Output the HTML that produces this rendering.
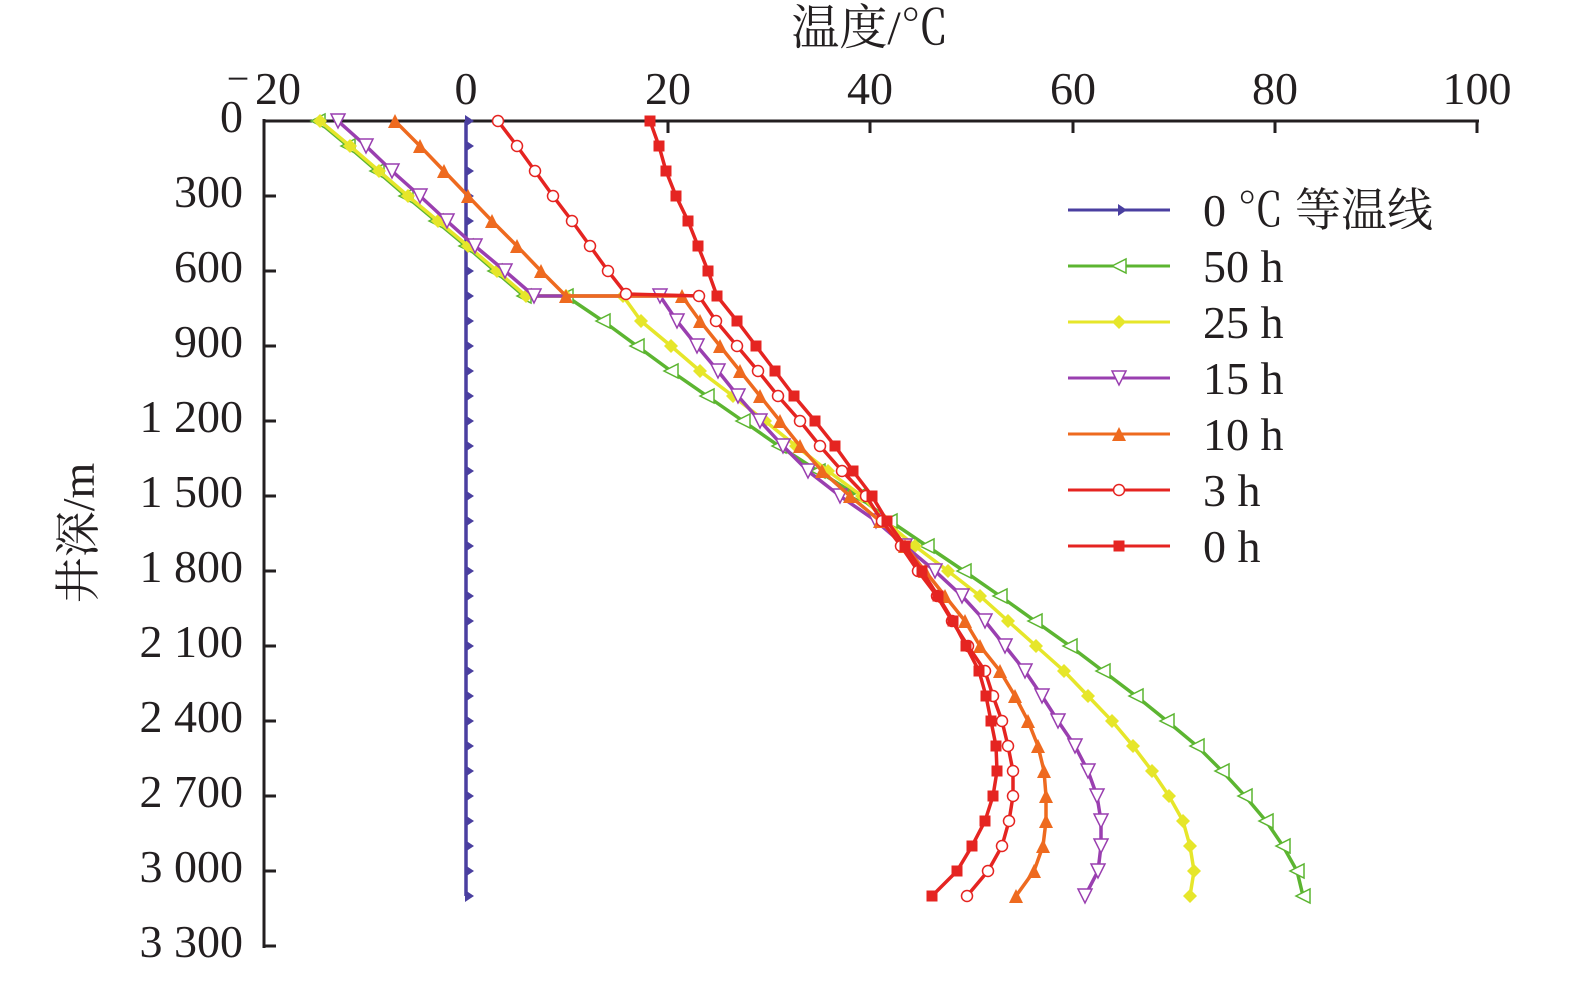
<!DOCTYPE html>
<html><head><meta charset="utf-8"><style>
body{margin:0;background:#fff;}
svg text{font-family:"Liberation Serif","Noto Serif CJK SC",serif;fill:#231f20;}
</style></head><body>
<svg id="s" width="1575" height="988" xmlns="http://www.w3.org/2000/svg">
<text x="870" y="44" font-size="48" text-anchor="middle">温度/℃</text>
<g font-size="46" text-anchor="middle">
<text x="278" y="104">20</text><text x="238" y="92" font-size="40">−</text><text x="466" y="104">0</text><text x="668" y="104">20</text>
<text x="870" y="104">40</text><text x="1073" y="104">60</text><text x="1275" y="104">80</text><text x="1477" y="104">100</text>
</g>
<g font-size="46" text-anchor="end">
<text x="243" y="132">0</text><text x="243" y="207">300</text><text x="243" y="282">600</text>
<text x="243" y="357">900</text><text x="243" y="432">1 200</text><text x="243" y="507">1 500</text>
<text x="243" y="582">1 800</text><text x="243" y="657">2 100</text><text x="243" y="732">2 400</text>
<text x="243" y="807">2 700</text><text x="243" y="882">3 000</text><text x="243" y="957">3 300</text>
</g>
<text transform="translate(94,533) rotate(-90)" font-size="46" text-anchor="middle">井深/m</text>
<g stroke="#231f20" stroke-width="3" fill="none">
<path d="M264,121H1479M264,119V948"/>
<path d="M466,121v12M668,121v12M870,121v12M1073,121v12M1275,121v12M1477,121v12"/>
<path d="M264,196h12M264,271h12M264,346h12M264,421h12M264,496h12M264,571h12M264,646h12M264,721h12M264,796h12M264,871h12M264,946h12"/>
</g>
<g id="series"></g>
<g id="legend" font-size="46"></g>
</svg>
<script>
const Y=i=>121+25*i;
function below(arr){return arr.map((x,k)=>[x,Y(8+k)]);}
const S={
 '50':{c:'#5cb531',m:'lt',pts:[[318,121],[348,146],[377,171],[406,196],[436,221],[466,246],[495,271],[524,296],[566,296]].concat(below([603,637,671,707,743,779,818,858,890,927,964,1000,1035,1070,1103,1136,1167,1197,1222,1245,1266,1283,1297,1303]))},
 '25':{c:'#e6e62a',m:'dia',pts:[[320,121],[350,146],[379,171],[408,196],[438,221],[468,246],[497,271],[526,296],[566,296],[623,296]].concat(below([641,671,700,733,765,796,828,862,885,915,948,980,1008,1036,1064,1088,1112,1133,1152,1169,1183,1190,1194,1190]))},
 '15':{c:'#9a3fb0',m:'dt',pts:[[338,121],[366,146],[392,171],[420,196],[447,221],[475,246],[505,271],[534,296],[660,296]].concat(below([677,697,718,738,760,783,808,840,876,905,935,962,985,1005,1025,1042,1058,1075,1088,1097,1101,1101,1098,1085]))},
 '10':{c:'#ee6a1f',m:'ut',pts:[[395,121],[420,146],[444,171],[468,196],[492,221],[517,246],[541,271],[566,296],[682,296]].concat(below([700,720,740,760,780,800,822,850,880,905,925,945,965,980,1000,1015,1028,1038,1044,1046,1046,1043,1034,1016]))},
 '3':{c:'#e52421',m:'circ',pts:[[498,121],[517,146],[535,171],[553,196],[572,221],[590,246],[608,271],[626,294],[699,296]].concat(below([716,737,758,778,800,820,842,866,882,901,918,937,952,968,985,993,1002,1008,1013,1013,1009,1002,988,967]))},
 '0':{c:'#e52421',m:'sq',pts:[[650,121],[659,146],[666,171],[676,196],[688,221],[698,246],[708,271],[717,296]].concat(below([737,756,775,794,815,835,853,872,887,905,922,938,953,966,979,986,991,996,997,993,985,972,957,932]))},
};
const iso={c:'#4a3fa0',m:'rt',pts:Array.from({length:32},(_,i)=>[466,Y(i)])};
function mk(m,x,y,c){
 const r=7;
 switch(m){
  case 'lt':return `<polygon points="${x-r},${y} ${x+r},${y-r} ${x+r},${y+r}" fill="#fff" stroke="${c}" stroke-width="1.5"/>`;
  case 'dia':return `<polygon points="${x},${y-r} ${x+r},${y} ${x},${y+r} ${x-r},${y}" fill="${c}"/>`;
  case 'dt':return `<polygon points="${x-r},${y-r} ${x+r},${y-r} ${x},${y+r}" fill="#fff" stroke="${c}" stroke-width="1.5"/>`;
  case 'ut':return `<polygon points="${x-r},${y+r} ${x+r},${y+r} ${x},${y-r}" fill="${c}"/>`;
  case 'circ':return `<circle cx="${x}" cy="${y}" r="5.5" fill="#fff" stroke="${c}" stroke-width="1.5"/>`;
  case 'sq':return `<rect x="${x-5.5}" y="${y-5.5}" width="11" height="11" fill="${c}"/>`;
  case 'rt':return `<polygon points="${x-1},${y-6} ${x+8},${y} ${x-1},${y+6}" fill="${c}"/>`;
 }
}
function draw(s){
 let h=`<polyline points="${s.pts.map(p=>p.join(',')).join(' ')}" fill="none" stroke="${s.c}" stroke-width="3.5"/>`;
 s.pts.forEach(p=>h+=mk(s.m,p[0],p[1],s.c));return h;
}
let g=draw(iso);
['50','25','15','10','3','0'].forEach(k=>g+=draw(S[k]));
document.getElementById('series').innerHTML=g;
const L=[['0 ℃ 等温线',iso],['50 h',S['50']],['25 h',S['25']],['15 h',S['15']],['10 h',S['10']],['3 h',S['3']],['0 h',S['0']]];
let l='';
L.forEach((e,i)=>{const y=210+56*i;
 l+=`<line x1="1068" y1="${y}" x2="1170" y2="${y}" stroke="${e[1].c}" stroke-width="3"/>`+mk(e[1].m,1119,y,e[1].c)+`<text x="1203" y="${y+16}">${e[0]}</text>`;});
document.getElementById('legend').innerHTML=l;
</script>
</body></html>
